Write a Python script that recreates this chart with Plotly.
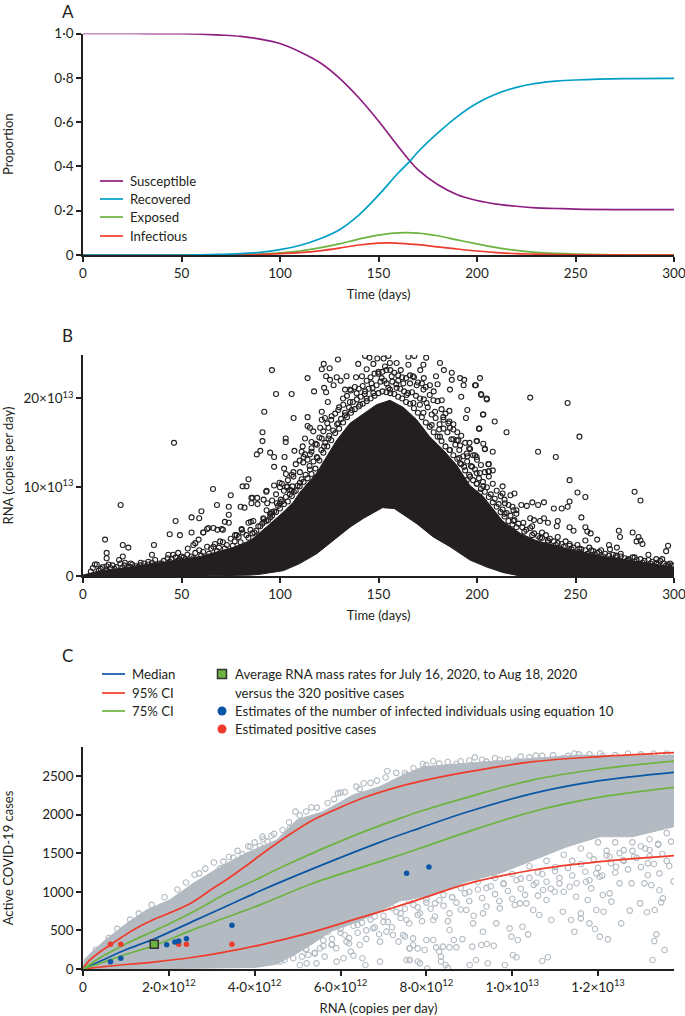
import plotly.graph_objects as go

# ---------- Panel A ----------
days_s = [0, 25, 50, 60, 70, 80, 90, 100, 110, 120, 130, 140, 150, 160, 166, 170, 180, 190, 200, 210, 220, 230, 240, 250, 275, 300]
susceptible = [1, 1, .999, .997, .993, .987, .975, .955, .918, .87, .80, .71, .605, .49, .424, .385, .318, .272, .246, .23, .22, .213, .21, .207, .205, .205]
days_r = [0, 50, 60, 70, 80, 90, 100, 110, 120, 130, 140, 150, 160, 166, 170, 180, 190, 200, 210, 220, 230, 240, 250, 275, 300]
recovered = [0, 0, .001, .003, .006, .012, .024, .043, .072, .113, .18, .27, .37, .424, .465, .55, .625, .685, .728, .757, .775, .785, .79, .796, .797]
days_e = [0, 60, 80, 90, 100, 110, 120, 130, 140, 150, 160, 170, 180, 190, 200, 210, 220, 230, 240, 250, 270, 300]
exposed = [0, 0, .002, .004, .01, .018, .032, .05, .072, .09, .1, .099, .087, .068, .05, .033, .021, .012, .007, .004, .001, 0]
days_i = [0, 60, 80, 90, 100, 110, 120, 130, 140, 150, 155, 160, 170, 180, 190, 200, 210, 220, 230, 240, 250, 300]
infectious = [0, 0, .001, .003, .006, .011, .019, .031, .045, .054, .055, .053, .047, .037, .027, .018, .011, .006, .004, .002, .001, 0]
ticks_a_y = [0, .2, .4, .6, .8, 1]
labels_a_y = ["0", "0·2", "0·4", "0·6", "0·8", "1·0"]
ticks_days = [0, 50, 100, 150, 200, 250, 300]

# ---------- Panel B (values in units of 1e13 copies per day) ----------
mass_day_upper = [0, 8.6, 25.5, 42.5, 59.4, 76, 85, 93, 101.7, 106.7, 110, 118.6, 123.7, 128.8, 135.5, 142.4, 149, 155.8, 162.6, 169.4, 176, 182.9, 189.6, 196.4, 203, 213, 222, 230, 247, 264, 281, 300]
mass_val_upper = [0.1, .6, 1, 1.6, 2.2, 3.2, 4, 5.5, 7.2, 8.3, 9.4, 11.6, 13.5, 15.3, 17.2, 18.3, 19.3, 19.8, 19, 17.6, 15.7, 14.2, 12.5, 10.2, 9, 6.2, 4.8, 4, 3, 2.2, 1.6, 1]
mass_day_lower = [300, 222, 213, 205, 196.4, 186.3, 177.8, 169.4, 162, 158, 152, 148, 142.4, 135.5, 127, 118.6, 110, 101.7, 90, 85, 60, 0]
mass_val_lower = [0, 0, .4, 1, 1.8, 3.3, 4.4, 5.9, 7, 7.6, 7.7, 7.2, 6.5, 5.5, 4, 2.5, 1.4, .6, .2, .1, 0, 0]
rna_day = [
95.9, 98, 105.9, 92, 106.9, 114, 117.3, 122.2, 121.2, 125.2, 129.4, 123.4, 123.4, 122.4, 124.3, 125.4, 127.2, 128.8, 130.8, 133.8,
133, 135.5, 138.6, 141.6, 139.7, 143.2, 145.4, 144, 147.4, 149.4, 152.6, 155, 153.3, 155.8, 159.2, 161.3, 165.2, 165.2, 168.2, 174.2,
172.8, 171.2, 167.5, 173, 179.2, 181.2, 183.2, 187.2, 187.2, 191.4, 193.5, 193.2, 186.3, 180, 176.1, 199.4, 201.5, 202, 204.9, 192,
195.1, 194.4, 186, 182.1, 177.9, 201.2, 203.2, 199.8, 203.2, 204, 196.2, 191.4, 188, 196.5, 195.1, 199, 199.8, 205.8, 205.8, 191,
188, 185.5, 182.9, 180.8, 189.7, 193.5, 197.5, 201.5, 199.8, 189.7, 194.8,
91.1, 91.1, 90, 88.2, 95, 97, 102.9, 102.9, 107.3, 102.3, 97, 102.1, 103, 106.8, 106.8, 110.1, 112.7, 116, 111, 114,
115.2, 116.9, 114, 121.2, 122.8, 120.4, 121.2, 124.6, 118.7, 111.5, 116, 112.7, 111.8, 115.2, 97, 99.8, 93, 85.5, 88.4, 91.7,
93.5, 85.5, 85.2, 91.7, 95.3, 100.4, 103.7, 106.3,
126.2, 129.6, 132.1, 135.5, 138.9, 143.2, 146.5, 149.9, 151.6, 154.1, 156.7, 160, 162.6, 166, 169.4, 172.8, 171.1, 174.4, 178.7, 183,
186.3, 190.5, 194.8, 199.8, 203.2, 121.2, 124.6, 122.4, 118.7, 115.2, 110.1, 105.1, 100, 95, 129.6, 133, 136.4, 140.6, 144, 147.4,
155.8, 159.2, 164.3, 167.7, 172.8, 177, 181.2, 186.3, 191.4, 196.5, 201.5,
46.2, 19.1, 11.2, 12, 12, 13, 6, 20.2, 23, 36, 35, 20.2, 18.3, 21.3, 24.2, 29.3, 33.2, 36.6, 44, 47,
49.2, 43.3, 45.8, 48.3, 50, 55.1, 55.1, 59, 53.2, 56, 58.7, 61.1, 63.7, 66.2, 68.2, 70.4, 60.1, 66, 68, 75,
74, 74, 72, 74, 80, 82, 81, 83, 84, 86, 88.6, 66.2, 69.6, 77.2, 80.5, 84, 86.5, 91.5, 93.2, 100.9,
103.4, 106, 96, 98.4, 93.2, 57, 61, 63, 71, 78, 80.6,
199, 202.2, 205, 227, 246, 203, 209, 201, 215, 252, 231, 240, 208, 204, 200, 206, 208, 206, 247, 251,
255, 280, 283, 213, 219, 213, 217, 214.2, 222.5, 225.3, 228.1, 231, 234, 239, 243, 246, 247, 253, 227, 228.9,
232, 234, 236, 241, 240.5, 247, 249, 255, 256, 257.7, 255, 261, 272, 272.6, 279, 282, 281, 283, 284, 297,
296, 271, 267, 267.5, 273, 280, 287, 294, 298, 291, 276.5, 270.6, 262, 258, 252, 247, 241, 236, 233, 228,
223.5, 218.5, 214, 218.5, 220]
rna_val = [
23.2, 20.5, 20.5, 18.5, 17.8, 22.3, 20.8, 23.9, 23.3, 23.4, 24.4, 22.5, 20.7, 21.2, 19.6, 22.1, 21.5, 22.4, 22, 22.5,
21, 21, 22.4, 22.5, 23.9, 24.8, 24.6, 23.3, 23.9, 24.5, 24.5, 24.8, 23.6, 24, 24, 23.2, 24.7, 23.8, 24.8, 24.6,
23.8, 23.2, 22.5, 22.3, 22.5, 24, 23.2, 22.9, 22.1, 22.3, 22.1, 21.5, 21, 21.6, 21.5, 21.5, 22.3, 20.5, 20, 20.2,
18.7, 17.8, 18.6, 19.8, 19.8, 16.6, 18.2, 15.2, 14.9, 14.3, 15, 14.7, 15.4, 14.3, 13.5, 13.6, 13.4, 12.6, 11.8, 13.3,
16.5, 17.2, 17.9, 16.5, 15.3, 12.3, 12.3, 11.6, 10.4, 11.2, 10.8,
16.2, 15.2, 14.1, 13.7, 13.9, 13.4, 15.5, 15.1, 14.1, 13.4, 12.3, 12.1, 11.5, 11.7, 11.2, 11.7, 15.5, 15.1, 14, 16.9,
16.7, 16.3, 17.9, 18.5, 17.8, 16.7, 15.5, 15.5, 14.8, 14.6, 14.4, 13.7, 12.8, 13.7, 10.2, 10.5, 9.5, 8.8, 8.8, 8.6,
8.2, 8.2, 6.1, 6.4, 7, 8.6, 10.1, 10.1,
18, 18.7, 19.3, 19.6, 20.6, 20.8, 21.7, 22.8, 22.3, 21.7, 22.5, 22, 21.7, 21.7, 21.5, 21, 20, 19.5, 18.5, 17.6,
16.7, 15.3, 13.8, 11.6, 10.1, 17.6, 16.7, 14.6, 13.4, 12, 10.5, 9.7, 8.2, 7, 17.2, 18.1, 18.7, 19.3, 20, 20.6,
21, 21.2, 20.4, 19.5, 18.4, 17, 15.7, 14.2, 12.7, 11.2, 9.4,
15, 8, 4.1, 2.6, 2, 1.3, 1.3, 3.5, 3.2, 3.5, 2.4, 2.2, 1.8, 1.5, 1.4, 1.5, 1.6, 1.8, 4.7, 6.2,
4.6, 2.4, 2.4, 2.6, 2.2, 6.6, 4.9, 6.5, 3.1, 3.5, 4.1, 4.9, 5.4, 5.4, 5.2, 5.3, 7.3, 9.8, 8, 9.1,
7.8, 6.9, 6.1, 6, 7.8, 7.7, 10.1, 10.1, 10.9, 8.8, 8.1, 3.3, 3.9, 4.6, 5.3, 6, 6.2, 6.5, 7.4, 10.4,
10, 9.6, 7.2, 8.2, 9.6, 3.7, 4.9, 5.3, 5.2, 4.6, 5.2,
21.5, 20.4, 19.9, 20.1, 19.5, 18.2, 17.4, 16.6, 16.2, 15.7, 14, 13.4, 14, 14.3, 15.2, 12.6, 11.9, 11.8, 10.8, 9.4,
8.9, 9.5, 8.5, 10.1, 9.3, 9.3, 9.1, 8.2, 8, 7.9, 8.3, 8, 8.3, 7.6, 7.6, 7.8, 8.4, 6.6, 6.5, 6.3,
6.2, 6.5, 6, 6.2, 5.6, 5.5, 5.1, 5.5, 5, 4.8, 4, 4.1, 5.1, 4.4, 4.9, 4.4, 3.9, 4, 3.6, 3.4,
2.8, 3.2, 3.5, 3, 2.5, 2.1, 2.4, 1.9, 1.4, 1.9, 1.8, 2.3, 2.7, 2.9, 3.1, 3.6, 4.4, 4, 4.9, 5.6,
6, 6.2, 7, 7.4, 7]
fringe_day = [
5,7,9,10,12,14,15,17,19,21,23,25,27,29,31,33,35,37,39,41,43,45,47,49,51,53,55,57,59,61,63,65,67,69,71,73,75,77,79,81,83,85,87,89,91,93,95,97,99,
101,103,105,107,109,111,113,115,117,119,121,123,125,127,129,131,133,135,137,139,141,143,145,147,149,151,153,155,157,159,161,163,165,167,169,171,173,175,177,179,181,183,185,187,189,191,193,195,197,199,
201,203,205,207,209,211,213,215,217,219,221,223,225,227,229,231,233,235,237,239,241,243,245,247,249,251,253,255,257,259,261,263,265,267,269,271,273,275,277,279,281,283,285,287,289,291,293,295,297,299,
96,98,100,102,104,106,108,110,112,114,116,118,120,122,124,126,128,130,132,134,136,138,140,142,144,146,148,150,152,154,156,158,160,162,164,166,168,170,172,174,176,178,180,182,184,186,188,190,192,194,196,198,200,202,204,206,208,210,212,214,216,218,220,
86,88,90,92,94,96,98,100,102,104,106,108,110,112,114,116,118,120,122,124,126,128,130,132,134,136,138,140,142,144,146,148,150,152,154,156,158,160,162,164,166,168,170,172,174,176,178,180,182,184,186,188,190,192,194,196,198,200,202,204,206,208,210,212,214,216,218,220,224,228,232,236,240,244,248,252,256,260,264,268,272,276,280,284,288,292,296,300,
4,8,12,16,20,24,28,32,36,40,44,48,52,56,60,64,68,72,76,80,84]
fringe_val = [
.9,1.3,.8,1,1.1,.9,1.2,1,1.4,1.2,1,1.3,1.1,1.2,1.4,1.3,1.5,1.3,1.4,1.7,2,1.9,2.1,1.9,2.1,2.4,2.2,2.6,2.9,2.7,3.3,3.1,3.6,3.2,3.8,3.5,4.2,3.9,4.4,4.9,4.6,5.2,4.9,5.6,5.9,6.2,6.6,7.3,7.9,
8.4,8.9,9.2,9.5,10.2,10.9,11.4,12.4,12.9,13.3,14.2,15,15.8,16.4,17.1,17.7,18.4,19,19.6,19.9,20.2,20.5,21.1,21.2,21.5,21.9,22,21.2,21.9,21.6,21.1,20.8,20.6,20.7,20.3,19.3,19.9,19,18.2,17.8,17.1,16.6,16.2,15.4,14.8,14.2,13.5,12.9,12.4,12,
11,10.6,10,9.2,8.7,8.1,7.5,7.1,6.8,6.3,5.9,5.5,5.2,5.4,4.8,4.5,4.3,4.6,4.2,3.9,3.7,3.6,3.9,3.4,3.2,3.5,3,2.9,3.2,2.8,2.6,2.9,2.5,2.3,2.4,2.1,2.2,2,1.9,2.1,1.8,1.9,1.7,1.8,1.6,1.5,1.7,1.4,1.3,1.2,
8.5,9.2,10,9.6,10.8,11.4,12.6,13,13.4,13.1,14,14.9,15.6,16.3,17.2,17.6,18.3,19,20,20.3,20.9,21.3,21.1,21.4,22,22.4,22.8,23,23,23.2,23.2,22.9,22.6,22.4,22.3,22.6,22.4,21.8,21.7,21.3,20.4,20.8,19.7,18.8,18.3,17.4,17.1,16.2,15.8,15,14.4,13.6,13.1,12.5,11.7,11.2,10.4,9.6,9,8.6,8,7.8,7.4,
4.8,5.1,5.6,6.1,6.3,6.8,7.2,7.6,8.1,8.4,9,9.6,10.1,10.6,11,11.5,12.1,13,13.9,14.6,15.3,16.1,16.6,17.3,17.9,18.4,18.8,19.1,19.4,19.7,20,20.3,20.6,20.8,20.7,20.6,20.5,20.2,20,19.6,19.4,18.9,18.4,17.9,17.3,16.8,16.2,15.7,15.2,14.6,14.2,13.6,13.2,12.6,11.9,11.4,10.8,10.4,9.8,9.5,8.9,8.3,7.8,7.2,6.7,6.2,5.8,5.5,5,4.6,4.3,3.8,3.5,3.3,3,2.7,2.5,2.4,2.2,2,1.8,1.7,1.6,1.5,1.4,1.3,1.2,1.1,
.5,.6,.7,.8,.9,1,1,1.1,1.2,1.4,1.6,1.7,1.9,2,2.3,2.5,2.8,3.1,3.4,3.8,4.3]
ticks_b_y = [0, 10, 20]
labels_b_y = ["0", "10×10<sup>13</sup>", "20×10<sup>13</sup>"]

# ---------- Panel C (RNA in units of 1e12 copies per day) ----------
cloud_x_upper = [0, .04, .47, 1.02, 1.48, 2.02, 2.57, 3.27, 3.81, 4.51, 4.98, 5.59, 6.29, 6.91, 7.38, 7.92, 8.93, 10.49, 11.57, 12.8, 13.77]
cloud_y_upper = [0, 130, 353, 592, 764, 894, 1110, 1347, 1502, 1670, 1930, 2037, 2253, 2361, 2490, 2620, 2664, 2729, 2771, 2758, 2771]
cloud_x_lower = [13.77, 12.8, 12.04, 11.26, 10.49, 9.71, 8.93, 8.16, 7.38, 6.52, 5.75, 5.36, 4.98, 4.5, 4, 2, 0]
cloud_y_lower = [1843, 1713, 1713, 1580, 1409, 1239, 1130, 958, 880, 640, 480, 330, 200, 60, 20, 5, 0]
red_hi_x = [0, .12, .4, .63, .9, 1.25, 1.71, 2.18, 2.57, 3.03, 3.35, 3.81, 4.12, 4.82, 5.36, 5.9, 6.6, 7.22, 7.85, 8.93, 10.49, 12.04, 13.77]
red_hi_y = [0, 95, 224, 310, 410, 530, 656, 764, 872, 1045, 1160, 1340, 1470, 1745, 1930, 2070, 2230, 2340, 2430, 2550, 2685, 2750, 2801]
green_hi_x = [0, .4, 1.02, 1.79, 2.57, 3.35, 4.12, 4.82, 6.37, 7.38, 7.85, 8.93, 10.49, 12.04, 13.77]
green_hi_y = [0, 146, 331, 527, 742, 980, 1180, 1370, 1740, 1950, 2040, 2220, 2450, 2590, 2693]
median_x = [0, .4, 1.02, 1.64, 2.57, 3.35, 4.12, 5.36, 6.91, 7.85, 8.93, 10.49, 12.04, 13.77]
median_y = [0, 100, 255, 385, 620, 815, 1010, 1300, 1640, 1825, 2030, 2275, 2439, 2547]
green_lo_x = [0, .4, 1.02, 1.64, 2.57, 3.35, 4.12, 5.36, 6.91, 7.85, 8.93, 10.49, 12.04, 13, 13.77]
green_lo_y = [0, 74, 194, 300, 510, 670, 830, 1110, 1390, 1563, 1770, 2040, 2225, 2300, 2353]
red_lo_x = [0, .63, 1.64, 2.57, 3.35, 4.12, 5.36, 6.13, 6.91, 7.38, 7.85, 8.93, 10.49, 12.04, 13.77]
red_lo_y = [0, 39, 90, 152, 224, 310, 480, 610, 740, 820, 905, 1100, 1282, 1390, 1469]
active_x = [
10.02, 10.1, 10.7, 10.83, 13.55, 13.27, 13.36, 13.31, 13.76, 9.16, 9.43, 9.83, 9.01, 8.5, 9.28, 9.41, 9.57, 9.07, 8.84, 8.64,
8.54, 8.7, 8.39, 8.23, 8.3, 8.34, 8.45, 8.34, 8, 8.02, 7.8, 7.61, 7.5, 7.69, 7.96, 7.8, 7.61, 8.16, 8.54, 9.09,
9.32, 9.63, 9.98, 10.13, 10.37, 9.94, 10.24, 10.63, 10.91, 11.18, 11.37, 11.6, 11.8, 12.04, 12.23, 11.93, 11.45, 11.6, 11.96, 12.13,
12.31, 12.11, 12.54, 12.74, 12.98, 13.14, 13.32, 13.51, 13.47, 13.43, 13.24, 13.08, 12.78, 13.16, 13.43, 13.66, 12.27, 12.5, 12.04, 11.84,
11.76, 11.49, 11.34, 10.99, 10.8, 10.49, 10.18, 9.71, 9.32, 8.93, 8.54, 8.16, 7.85, 7.54, 10.56, 10.72, 10.06, 10.33, 11.1, 11.72,
12.84, 13.16, 12.42, 12.58, 12.27, 11.96, 13.2,
7.92, 9.13, 10.55, 11.55, 12.11, 8.16, 8.7, 9.71, 11.18, 7.5, 9.4, 10.1,
7.09, 6.37, 6.54, 5.94, 6, 5.32, 4.95, 4.82, 4.39, 4.18, 4.3, 3.9, 4.12, 3.72, 3.5, 3.27, 2.71, 3.19, 2.96, 7.23, 7.54,
7.54, 7.61, 7.85, 6.92, 6.58, 6.24, 6.51, 6.07, 6.3, 5.44, 5.21, 5.05, 5.91, 5.63, 7.61, 7.69, 7.35, 6.92, 7.22, 7.46,
7.07, 6.76, 6.45, 6.14, 5.79, 5.52, 5.25, 4.9, 4.59,
4.4,4.6,4.7,4.8,4.9,5,5.1,5.2,5.3,5.4,5.5,5.6,5.7,5.8,5.9,6,6.1,6.2,6.3,6.4,6.5,6.6,6.7,6.8,6.9,7,7.1,7.2,7.3,7.4,7.5,7.6,7.7,7.8,7.9,8,8.1,8.2,8.3,8.4,8.5,8.6,8.7,8.8,8.9,9,9.1,9.2,9.3,9.4,9.5,9.6,9.7,9.8,9.9,10,10.1,10.2,10.3,10.4,10.5,10.6,10.7,10.8,10.9,11,11.1,11.2,11.3,11.4,11.5,11.6,11.7,11.8,11.9,12,12.1,12.2,12.3,12.4,12.5,12.6,12.7,12.8,12.9,13,13.1,13.2,13.3,13.4,13.5,13.6,13.7,
.3,.6,.8,1.1,1.3,1.6,1.9,2.2,2.4,2.6,2.85,3.05,3.4,3.6,3.85,4,4.2,4.45,4.65,4.8,5.05,5.2,5.45,5.7,5.85,6.1,6.45,6.7,6.85,7.05,7.3,7.7,8,8.3,8.5,8.8,9,9.3,9.6,9.9,10.2,10.4,10.7,10.95,11.3,11.45,11.8,12.05,12.4,12.7,13,13.3,13.6,
5.2,5.6,6,6.4,6.8,7.2,7.6,8,8.4,8.8,9.2,9.6,10,10.4,10.8,11.2,11.6,12,12.4,12.8,13.2,13.6,
5.4,5.8,6.2,6.6,7,7.4,7.8,8.2,8.6,9,9.4,9.8,10.2,10.6,11,11.4,11.8,12.2,12.6,13,13.4]
active_y = [
181, 152, 104, 152, 246, 117, 449, 362, 1135, 117, 74, 52, 52, 14, 311, 324, 302, 290, 387, 376,
280, 280, 290, 280, 225, 160, 52, 97, 376, 5, 97, 117, 419, 397, 246, 267, 267, 376, 505, 591,
483, 591, 419, 376, 449, 526, 548, 699, 635, 742, 635, 656, 591, 419, 384, 518, 483, 720, 764, 742,
872, 958, 591, 756, 850, 735, 764, 915, 863, 1020, 1087, 1109, 1109, 1217, 1239, 1334, 980, 1109, 1195, 1044,
893, 936, 1066, 1001, 893, 764, 850, 785, 720, 764, 720, 635, 720, 635, 1117, 1023, 829, 850, 1109, 1130,
1454, 1368, 1325, 1411, 1454, 1239, 1541,
2655, 2741, 2763, 2780, 2758, 2690, 2655, 2706, 2729, 2536, 2685, 2698,
2564, 2362, 2405, 2275, 2284, 2094, 2038, 1823, 1726, 1714, 1649, 1584, 1593, 1485, 1442, 1390, 1239, 1304, 1196, 2405, 2512,
117, 117, 73, 95, 52, 225, 139, 139, 173, 73, 73, 52, 95, 160, 268, 311, 354, 354, 441, 441,
484, 527, 311, 354, 311, 268, 181, 139, 95,
180,240,120,300,220,340,160,260,370,210,430,300,480,390,270,520,440,330,560,470,600,390,640,540,450,690,610,540,740,660,780,590,830,700,620,860,780,680,890,820,620,930,860,770,980,880,690,1030,920,810,1070,970,880,1110,1010,910,1150,1040,960,1180,1090,950,1230,1130,1040,1270,1180,1000,1310,1210,1110,1360,1260,1150,1420,1310,1210,1470,1370,1250,1500,1400,1290,1530,1440,1320,1560,1460,1360,1610,1490,1400,1650,
250,400,520,640,720,830,930,1030,1120,1220,1300,1380,1450,1530,1590,1640,1680,1750,1800,1900,1990,2040,2090,2150,2200,2290,2330,2410,2440,2480,2540,2600,2640,2660,2680,2690,2700,2710,2730,2720,2750,2740,2760,2770,2760,2790,2780,2790,2770,2790,2780,2790,2790,
250,370,470,570,680,790,880,900,960,1050,1130,1180,1230,1330,1400,1480,1560,1640,1640,1640,1680,1760,
200,320,400,500,610,720,800,850,930,1000,1050,1100,1170,1250,1320,1400,1470,1530,1540,1590,1620]
infected_x = [.64, .88, 1.95, 2.14, 2.23, 2.41, 3.47, 7.54, 8.06]
infected_y = [95, 139, 315, 350, 363, 393, 565, 1239, 1321]
positive_x = [.64, .88, 2.23, 2.41, 3.47]
positive_y = [320, 320, 320, 320, 320]
average_x = [1.66]
average_y = [320]
ticks_c_x = [0, 2, 4, 6, 8, 10, 12]
labels_c_x = ["0", "2·0×10<sup>12</sup>", "4·0×10<sup>12</sup>", "6·0×10<sup>12</sup>", "8·0×10<sup>12</sup>", "1·0×10<sup>13</sup>", "1·2×10<sup>13</sup>"]
ticks_c_y = [0, 500, 1000, 1500, 2000, 2500]

INK = "#231f20"
FONT = "Lato"
SIZE = 13.5
W, H = 685, 1016
PURPLE, CYAN, GREEN, RED, BLUE, GREY = "#8e1f82", "#00a0c6", "#6cb33f", "#ee3b2b", "#0a56a6", "#b3bac1"
AVG_NAME = "Average RNA mass rates for July 16, 2020, to Aug 18, 2020"
AVG_NAME2 = "versus the 320 positive cases"
EST_NAME = "Estimates of the number of infected individuals using equation 10"
POS_NAME = "Estimated positive cases"

fig = go.Figure()
def line(x, y, name, color, xa, ya, width=1.7):
    fig.add_trace(go.Scatter(x=x, y=y, mode="lines", name=name, xaxis=xa, yaxis=ya,
                             line=dict(color=color, width=width, shape="spline", smoothing=1),
                             cliponaxis=False))

# A
line(days_e, exposed, "Exposed", GREEN, "x", "y")
line(days_i, infectious, "Infectious", RED, "x", "y")
line(days_s, susceptible, "Susceptible", PURPLE, "x", "y")
line(days_r, recovered, "Recovered", CYAN, "x", "y")

# B
fig.add_trace(go.Scatter(x=mass_day_upper + mass_day_lower, y=mass_val_upper + mass_val_lower,
                         mode="lines", fill="toself", fillcolor=INK, line=dict(color=INK, width=1),
                         xaxis="x2", yaxis="y2", hoverinfo="skip"))
fig.add_trace(go.Scatter(x=rna_day + fringe_day, y=rna_val + fringe_val, mode="markers", xaxis="x2", yaxis="y2",
                         marker=dict(symbol="circle-open", size=5, color=INK, line=dict(width=1.1, color=INK))))

# C
fig.add_trace(go.Scatter(x=cloud_x_upper + cloud_x_lower, y=cloud_y_upper + cloud_y_lower,
                         mode="lines", fill="toself", fillcolor=GREY, line=dict(color=GREY, width=1),
                         xaxis="x3", yaxis="y3", hoverinfo="skip"))
fig.add_trace(go.Scatter(x=active_x, y=active_y, mode="markers", xaxis="x3", yaxis="y3",
                         marker=dict(symbol="circle-open", size=5.5, color=GREY, line=dict(width=1.1, color=GREY))))
line(median_x, median_y, "Median", BLUE, "x3", "y3")
line(red_hi_x, red_hi_y, "95% CI", RED, "x3", "y3")
line(red_lo_x, red_lo_y, "95% CI lower", RED, "x3", "y3")
line(green_hi_x, green_hi_y, "75% CI", GREEN, "x3", "y3")
line(green_lo_x, green_lo_y, "75% CI lower", GREEN, "x3", "y3")
fig.add_trace(go.Scatter(x=positive_x, y=positive_y, mode="markers", name=POS_NAME,
                         xaxis="x3", yaxis="y3", marker=dict(color=RED, size=5.5)))
fig.add_trace(go.Scatter(x=infected_x, y=infected_y, mode="markers", name=EST_NAME,
                         xaxis="x3", yaxis="y3", marker=dict(color=BLUE, size=5.5)))
fig.add_trace(go.Scatter(x=average_x, y=average_y, mode="markers", name=AVG_NAME + " " + AVG_NAME2,
                         xaxis="x3", yaxis="y3",
                         marker=dict(symbol="square", color=GREEN, size=8, line=dict(color="#333333", width=1.5))))

def axis(dom, **kw):
    base = dict(domain=dom, showgrid=False, zeroline=False, showline=True, linecolor=INK, linewidth=1.6,
                ticks="outside", ticklen=5, tickwidth=1.5, tickcolor=INK, tickfont=dict(size=SIZE, color=INK, family=FONT),
                tickmode="array", title_font=dict(size=13, color=INK, family=FONT), ticklabeloverflow="allow")
    base.update(kw)
    return base

xdom = [83 / W, 674 / W]
def ydom(bottom, top):
    return [(H - bottom) / H, (H - top) / H]

# page-fixed key: text, line samples and symbols
annotations = []
def label(text, px, py, size=13.2):
    annotations.append(dict(text=text, x=px / W, y=1 - py / H, xref="paper", yref="paper", showarrow=False,
                            font=dict(size=size, color=INK, family=FONT), xanchor="left", yanchor="middle"))
shapes = []
def key_line(color, x0, x1, py):
    shapes.append(dict(type="line", xref="paper", yref="paper", x0=x0 / W, x1=x1 / W, y0=1 - py / H, y1=1 - py / H,
                       line=dict(color=color, width=1.7)))
def key_mark(kind, fill, border, cx, cy, r, bw=0):
    shapes.append(dict(type=kind, xref="paper", yref="paper", x0=(cx - r) / W, x1=(cx + r) / W,
                       y0=1 - (cy + r) / H, y1=1 - (cy - r) / H, fillcolor=fill,
                       line=dict(color=border, width=bw)))

for t, c, py in [("Susceptible", PURPLE, 181), ("Recovered", CYAN, 199), ("Exposed", GREEN, 217), ("Infectious", RED, 236)]:
    key_line(c, 100, 123, py)
    label(t, 128, py)
for t, c, py in [("Median", BLUE, 674), ("95% CI", RED, 693), ("75% CI", GREEN, 711)]:
    key_line(c, 102, 125, py)
    label(t, 130, py)
key_mark("rect", GREEN, "#333333", 222, 674, 4.5, 1.5)
key_mark("circle", BLUE, BLUE, 222, 711, 4.5)
key_mark("circle", RED, RED, 222, 729, 4.5)
label(AVG_NAME, 233, 674)
label(AVG_NAME2, 233, 693)
label(EST_NAME, 233, 711)
label(POS_NAME, 233, 729)
for t, px, py in [("A", 60, 12), ("B", 60, 335), ("C", 60, 655)]:
    label(t, px, py, 17)

fig.update_layout(
    width=W, height=H, margin=dict(l=0, r=0, t=0, b=0, autoexpand=False), paper_bgcolor="white", plot_bgcolor="white",
    font=dict(family=FONT, color=INK, size=SIZE), showlegend=False,
    xaxis=axis(xdom, range=[0, 300], tickvals=ticks_days, title_text="Time (days)", title_standoff=10, anchor="y"),
    yaxis=axis(ydom(255, 33.5), range=[0, 1], tickvals=ticks_a_y, ticktext=labels_a_y, title_text="Proportion", title_standoff=40, anchor="x"),
    xaxis2=axis(xdom, range=[0, 300], tickvals=ticks_days, title_text="Time (days)", title_standoff=10, anchor="y2"),
    yaxis2=axis(ydom(576, 355), range=[0, 24.9], tickvals=ticks_b_y, ticktext=labels_b_y, title_text="RNA (copies per day)", title_standoff=8, anchor="x2"),
    xaxis3=axis(xdom, range=[0, 13.77], tickvals=ticks_c_x, ticktext=labels_c_x, title_text="RNA (copies per day)", title_standoff=10, anchor="y3"),
    yaxis3=axis(ydom(969, 747), range=[0, 2875], tickvals=ticks_c_y, title_text="Active COVID-19 cases", title_standoff=26, anchor="x3"),
    annotations=annotations, shapes=shapes,
)

fig.write_html("out.html", post_script="document.body.style.margin='0';", config=dict(displayModeBar=False))
